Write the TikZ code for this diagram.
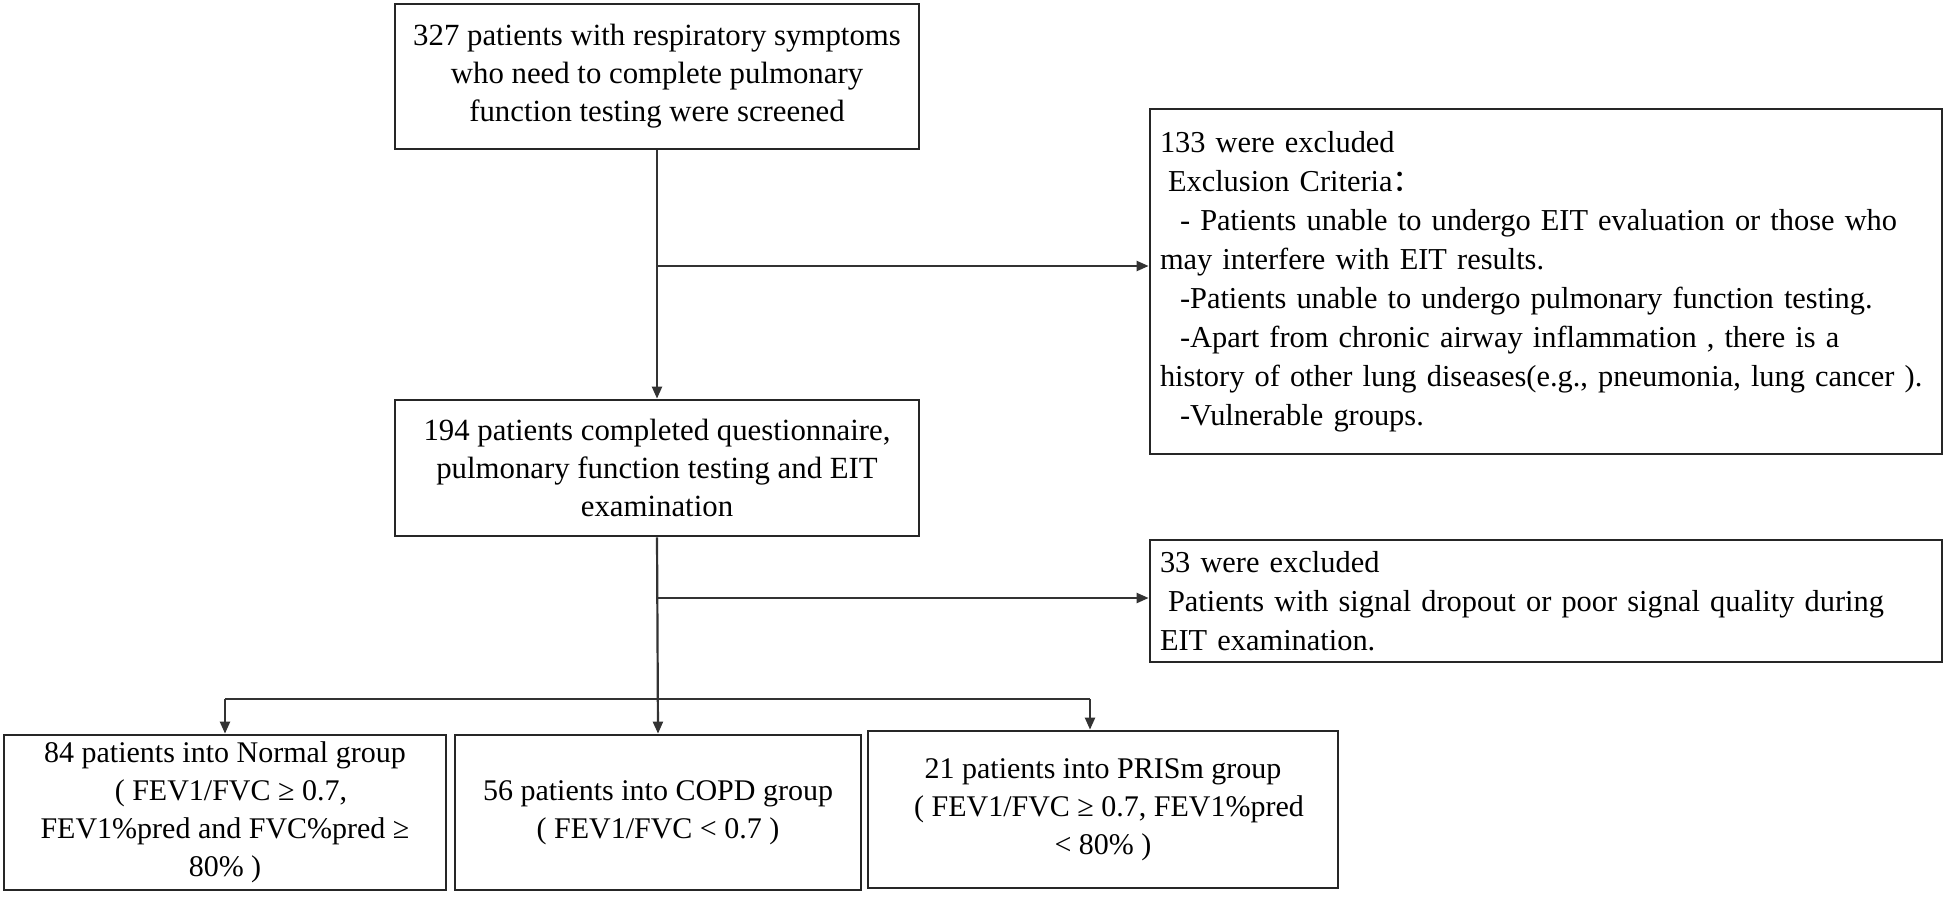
\documentclass[tikz,border=0pt]{standalone}
\usepackage{fontspec}
\setmainfont{Liberation Serif}
\newfontfamily\cjk{Noto Sans CJK SC}
\usetikzlibrary{arrows.meta}
\begin{document}
\begin{tikzpicture}[x=0.5pt,y=-0.5pt,
  box/.style={draw=black!85, line width=1.4pt, inner sep=0pt, fill=white,
    font=\fontsize{15.4}{19}\selectfont, align=center},
  lbox/.style={box, align=left, text width=390pt, inner xsep=3pt,
    font=\fontsize{15.2}{19.5}\selectfont},
  conn/.style={draw=black!80, line width=1.1pt},
  arr/.style={conn, -{Triangle[length=6pt,width=5pt]}}]
\useasboundingbox (0,0) rectangle (1946,896);

\node[box, minimum width=262pt, minimum height=72.5pt] (screen) at (657,76.5)
  {327 patients with respiratory symptoms\\who need to complete pulmonary\\function testing were screened};

\node[box, minimum width=262pt, minimum height=68pt] (completed) at (657,468)
  {194 patients completed questionnaire,\\pulmonary function testing and EIT\\examination};

\node[lbox, minimum width=396pt, minimum height=172.5pt] (excla) at (1546,281.5)
  {\hspace*{2pt}133 were excluded\\
   \hspace*{6pt}Exclusion Criteria{\cjk ：}\\
   \hspace*{12pt}- Patients unable to undergo EIT evaluation or those who\\
   \hspace*{2pt}may interfere with EIT results.\\
   \hspace*{12pt}-Patients unable to undergo pulmonary function testing.\\
   \hspace*{12pt}-Apart from chronic airway inflammation , there is a\\
   \hspace*{2pt}history of other lung diseases(e.g., pneumonia, lung cancer ).\\
   \hspace*{12pt}-Vulnerable groups.};

\node[lbox, minimum width=396pt, minimum height=61pt] (exclb) at (1546,601)
  {\hspace*{2pt}33 were excluded\\
   \hspace*{6pt}Patients with signal dropout or poor signal quality during\\
   \hspace*{2pt}EIT examination.};

\node[box, minimum width=221pt, minimum height=77.5pt, font=\fontsize{15}{19}\selectfont] (normal) at (225,812.5)
  {84 patients into Normal group\\\hspace*{6pt}( FEV1/FVC ≥ 0.7,\\FEV1\%pred and FVC\%pred ≥\\80\% )};

\node[box, minimum width=203pt, minimum height=77.5pt, font=\fontsize{15}{19}\selectfont] (copd) at (658,812.5)
  {56 patients into COPD group\\( FEV1/FVC < 0.7 )};

\node[box, minimum width=235pt, minimum height=78.5pt, font=\fontsize{15}{19}\selectfont] (prism) at (1103,809.5)
  {21 patients into PRISm group\\\hspace*{6pt}( FEV1/FVC ≥ 0.7, FEV1\%pred\\< 80\% )};

\coordinate (b1) at (657,266);
\coordinate (b2) at (657,598);
\coordinate (barL) at (225,699);
\coordinate (barR) at (1090,699);

\draw[arr] (screen.south) -- (completed.north);
\draw[arr] (b1) -- (b1 -| excla.west);
\draw[arr] (completed.south) -- (copd.north);
\draw[arr] (b2) -- (b2 -| exclb.west);
\draw[conn] (barL) -- (barR);
\draw[arr] (barL) -- (normal.north);
\draw[arr] (barR) -- (barR |- prism.north);
\end{tikzpicture}
\end{document}
